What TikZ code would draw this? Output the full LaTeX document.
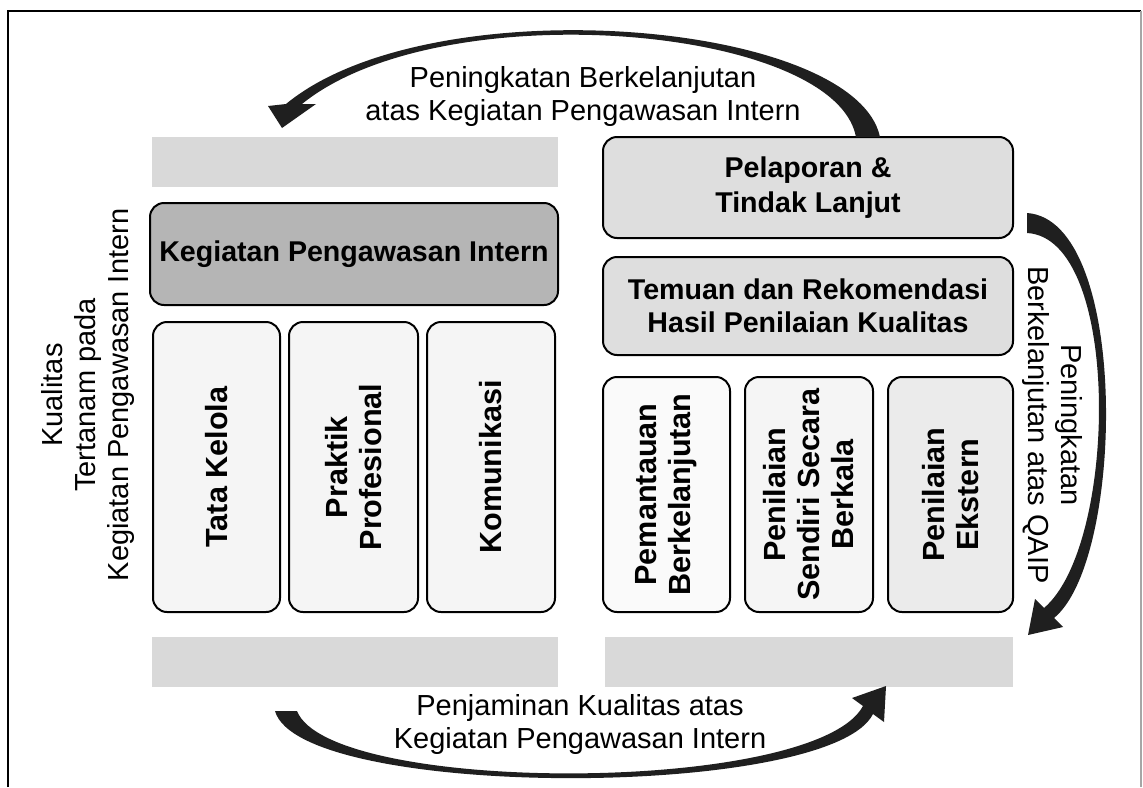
\documentclass[tikz,border=0pt]{standalone}
\usepackage{fontspec}
\setmainfont{Liberation Sans}
\begin{document}
\begin{tikzpicture}[x=0.5pt,y=-0.5pt,
  bar/.style={fill=gray!30, draw=none, inner sep=0pt},
  rbox/.style={draw=black, line width=1pt, rounded corners=7pt, inner sep=0pt, align=center},
  hbox/.style={rbox, font=\fontsize{14.3}{16.5}\selectfont\bfseries},
  cbox/.style={rbox, minimum height=145pt},
  rcbox/.style={rbox, minimum height=117.5pt},
  ctext/.style={rotate=90, align=center, font=\fontsize{15.3}{17}\selectfont\bfseries},
  lbl/.style={align=center, font=\fontsize{14.5}{16.5}\selectfont},
  arcfill/.style={fill=black!88, draw=none}]
\useasboundingbox (0,0) rectangle (1143,787);
% frame
\draw[line width=0.6pt] (8,787) -- (8,11) -- (1141,11);
\draw[line width=0.6pt, gray!70] (1141,11) -- (1141,787);
% left group
\node[bar, minimum width=203pt, minimum height=25pt] (bar1) at (355,162) {};
\node[hbox, fill=gray!58, minimum width=204pt, minimum height=51pt] (kpi) at (354,254) {Kegiatan Pengawasan Intern};
\node[cbox, fill=gray!8, minimum width=63.5pt] (c1) at (216.5,467) {};
\node[cbox, fill=gray!8, minimum width=64.5pt] (c2) at (353.5,467) {};
\node[cbox, fill=gray!8, minimum width=64pt] (c3) at (491,467) {};
\node[ctext] (t1) at (c1) {Tata Kelola};
\node[ctext] (t2) at (c2) {Praktik\\Profesional};
\node[ctext] (t3) at (c3) {Komunikasi};
\node[bar, minimum width=203pt, minimum height=25pt] (bar2) at (355,662) {};
% right group
\node[hbox, fill=gray!26, minimum width=205pt, minimum height=50.5pt, font=\fontsize{14.3}{17.5}\selectfont\bfseries] (pel) at (808,187.5) {Pelaporan \&\\Tindak Lanjut};
\node[hbox, fill=gray!26, minimum width=205pt, minimum height=49pt] (tem) at (808,306) {Temuan dan Rekomendasi\\Hasil Penilaian Kualitas};
\node[rcbox, fill=gray!4, minimum width=63.5pt] (r1) at (666.5,494.5) {};
\node[rcbox, fill=gray!8, minimum width=64pt] (r2) at (809,494.5) {};
\node[rcbox, fill=gray!16, minimum width=62.5pt] (r3) at (950.5,494.5) {};
\node[ctext] (s1) at (r1) {Pemantauan\\Berkelanjutan};
\node[ctext] (s2) at (r2) {Penilaian\\Sendiri Secara\\Berkala};
\node[ctext] (s3) at (r3) {Penilaian\\Ekstern};
\node[bar, minimum width=204pt, minimum height=25pt] (bar4) at (809,662) {};
% labels
\node[lbl] (ltop) at (583,96) {Peningkatan Berkelanjutan\\atas Kegiatan Pengawasan Intern};
\node[lbl] (lbot) at (580,724) {Penjaminan Kualitas atas\\Kegiatan Pengawasan Intern};
\node[lbl, rotate=90] (lleft) at (88,395) {Kualitas\\Tertanam pada\\Kegiatan Pengawasan Intern};
\node[lbl, rotate=-90] (lright) at (1052,425) {Peningkatan\\Berkelanjutan atas QAIP};
% curved arrows
\fill[arcfill] (880,137) .. controls (855,20) and (430,-15) .. (286,104) -- (268,106) -- (282,128) -- (316,104) -- (302,104) .. controls (440,-8) and (835,25) .. (856,137) -- cycle;
\fill[arcfill] (275,711) .. controls (300,800) and (830,800) .. (873,714) -- (884,722) -- (886,686) -- (852,698) -- (863,706) .. controls (815,795) and (330,795) .. (297,711) -- cycle;
\fill[arcfill] (1027,213) .. controls (1130,220) and (1125,560) .. (1054,618) -- (1063,627) -- (1028,635) -- (1035,599) -- (1044,608) .. controls (1118,545) and (1122,238) .. (1027,233) -- cycle;
\end{tikzpicture}
\end{document}
